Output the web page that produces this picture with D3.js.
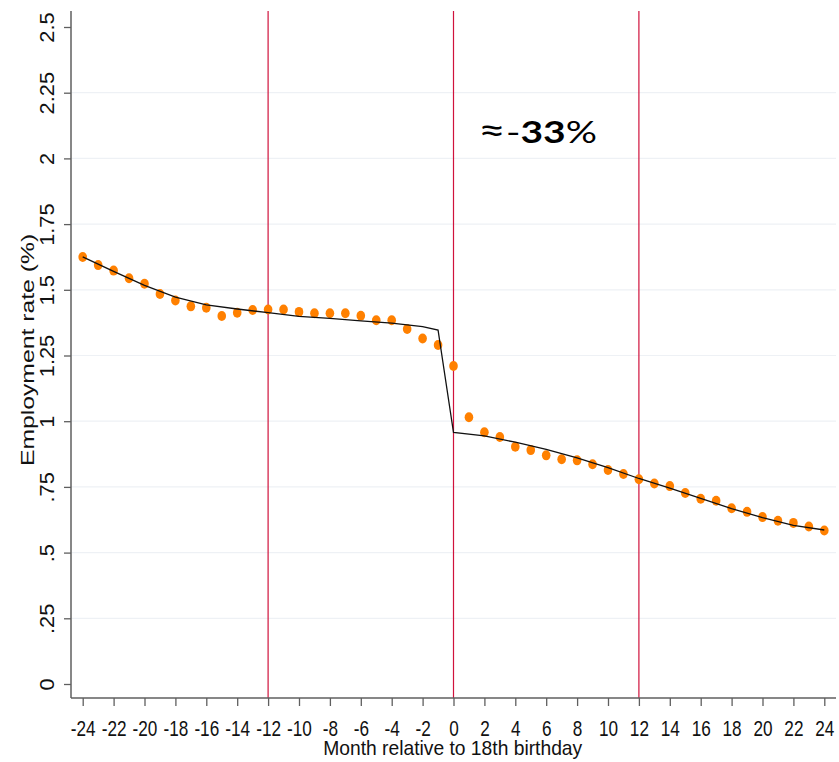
<!DOCTYPE html>
<html>
<head>
<meta charset="utf-8">
<script src="https://cdn.jsdelivr.net/npm/d3@7"></script>
<style>
  html, body { margin: 0; padding: 0; background: #fff; }
  svg { display: block; }
</style>
</head>
<body>
<svg id="chart" width="839" height="762"></svg>
<script>
// Monthly employment rate around the 18th birthday
const months = d3.range(-24, 25);
const employmentRate = [
  1.625, 1.594, 1.573, 1.544, 1.523, 1.484, 1.459, 1.437, 1.432, 1.400,
  1.413, 1.423, 1.425, 1.425, 1.416, 1.411, 1.411, 1.411, 1.401, 1.384,
  1.384, 1.351, 1.315, 1.290, 1.210, 1.015, 0.958, 0.940, 0.903, 0.890,
  0.870, 0.855, 0.851, 0.836, 0.814, 0.799, 0.779, 0.763, 0.753, 0.727,
  0.705, 0.697, 0.669, 0.655, 0.635, 0.621, 0.613, 0.599, 0.584
];

// Fitted trend, before and after the birthday
const fitMonths = [-24, -22, -20, -18, -16, -14, -12, -10, -8, -6, -4, -2, -1,
                   0, 2, 4, 6, 8, 10, 12, 14, 16, 18, 20, 22, 24];
const fitRate = [1.625, 1.570, 1.517, 1.472, 1.443, 1.427, 1.413, 1.399, 1.391, 1.382, 1.373, 1.360, 1.347,
                 0.957, 0.944, 0.920, 0.893, 0.860, 0.823, 0.782, 0.745, 0.706, 0.667, 0.633, 0.604, 0.586];

// Reference months marked with vertical lines
const refMonths = [-12, 0, 12];

const xTicks = d3.range(-24, 25, 2);
const yTicks = [0, 0.25, 0.5, 0.75, 1, 1.25, 1.5, 1.75, 2, 2.25, 2.5];
const yTickLabels = ["0", ".25", ".5", ".75", "1", "1.25", "1.5", "1.75", "2", "2.25", "2.5"];
const gridValues = [0.25, 0.5, 0.75, 1, 1.25, 1.5, 1.75, 2, 2.25];

const svg = d3.select("#chart");
const plot = { left: 71, right: 836, top: 11, bottom: 698 };

const x = d3.scaleLinear().domain([-24, 24]).range([82.7, 824.3]);
const y = d3.scaleLinear().domain([0, 2.5]).range([684, 27]);

const tickFont = "'Liberation Sans', Arial, sans-serif";

// Horizontal gridlines
svg.append("g")
  .selectAll("line")
  .data(gridValues)
  .join("line")
  .attr("x1", plot.left).attr("x2", plot.right)
  .attr("y1", d => y(d)).attr("y2", d => y(d))
  .attr("stroke", "#eef1f5")
  .attr("stroke-width", 1.2);

// Vertical reference lines
svg.append("g")
  .selectAll("line")
  .data(refMonths)
  .join("line")
  .attr("x1", d => x(d)).attr("x2", d => x(d))
  .attr("y1", plot.top).attr("y2", plot.bottom)
  .attr("stroke", "#d0123c")
  .attr("stroke-width", 1.2);

// Observed monthly rates
svg.append("g")
  .selectAll("ellipse")
  .data(months.map((m, i) => ({ m, v: employmentRate[i] })))
  .join("ellipse")
  .attr("cx", d => x(d.m))
  .attr("cy", d => y(d.v))
  .attr("rx", 4.3)
  .attr("ry", 5)
  .attr("fill", "#ff8000");

// Fitted line on top of the markers
const line = d3.line().x(d => x(d.m)).y(d => y(d.v));
svg.append("path")
  .datum(fitMonths.map((m, i) => ({ m, v: fitRate[i] })))
  .attr("d", line)
  .attr("fill", "none")
  .attr("stroke", "#111")
  .attr("stroke-width", 1.3);

// Y axis
const yAxis = d3.axisLeft(y)
  .tickValues(yTicks)
  .tickSize(7)
  .tickFormat((d, i) => yTickLabels[i]);
const gy = svg.append("g")
  .attr("transform", `translate(${plot.left},0)`)
  .call(yAxis);
gy.select(".domain").remove();
gy.append("line")
  .attr("x1", 0).attr("x2", 0)
  .attr("y1", plot.top).attr("y2", plot.bottom)
  .attr("stroke", "#5f5f5f").attr("stroke-width", 1.5);
gy.selectAll(".tick line").attr("stroke", "#5f5f5f").attr("stroke-width", 1.3);
gy.selectAll(".tick text")
  .attr("x", null).attr("dy", null)
  .attr("transform", "translate(-17.5,0) rotate(-90) scale(1.12,1)")
  .attr("text-anchor", "middle")
  .attr("y", 0)
  .attr("fill", "#111")
  .style("font-family", tickFont)
  .style("font-size", "19.5px");

// X axis
const xAxis = d3.axisBottom(x)
  .tickValues(xTicks)
  .tickSize(8)
  .tickFormat(d => String(d));
const gx = svg.append("g")
  .attr("transform", `translate(0,${plot.bottom})`)
  .call(xAxis);
gx.select(".domain").remove();
gx.append("line")
  .attr("x1", plot.left).attr("x2", plot.right)
  .attr("y1", 0).attr("y2", 0)
  .attr("stroke", "#5f5f5f").attr("stroke-width", 1.5);
gx.selectAll(".tick line").attr("stroke", "#5f5f5f").attr("stroke-width", 1.3);
gx.selectAll(".tick text")
  .attr("y", null).attr("dy", null)
  .attr("transform", "translate(0,37.5) scale(0.78,1)")
  .attr("fill", "#111")
  .style("font-family", tickFont)
  .style("font-size", "22px");

// Axis titles
svg.append("text")
  .attr("transform", "translate(452.7,755) scale(0.94,1)")
  .attr("text-anchor", "middle")
  .attr("fill", "#111")
  .style("font-family", tickFont)
  .style("font-size", "20.5px")
  .text("Month relative to 18th birthday");

svg.append("text")
  .attr("transform", "translate(33.5,350) rotate(-90) scale(1.33,1)")
  .attr("text-anchor", "middle")
  .attr("fill", "#111")
  .style("font-family", tickFont)
  .style("font-size", "18.6px")
  .text("Employment rate (%)");

// Size of the drop at 18
const note = svg.append("text")
  .attr("transform", "translate(478,143) scale(1.3,1)")
  .attr("fill", "#000")
  .style("font-family", "Lato, 'Open Sans', sans-serif")
  .style("font-size", "30px");
note.append("tspan").style("font-size", "37px").text("≈");
note.append("tspan").text("-");
note.append("tspan").attr("font-weight", "bold").text("33");
note.append("tspan").text("%");
</script>
</body>
</html>
